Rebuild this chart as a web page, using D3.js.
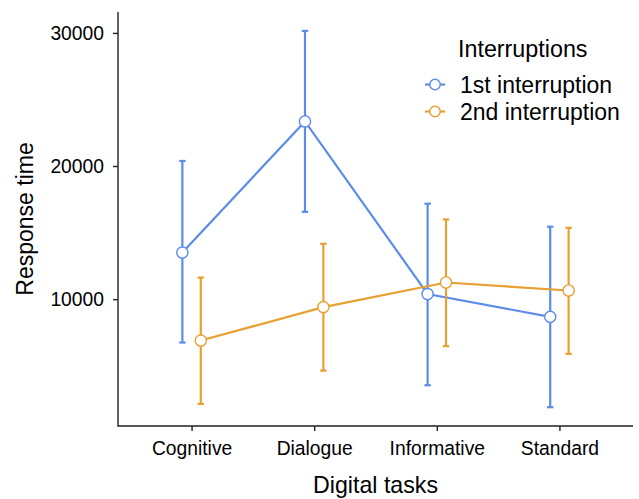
<!DOCTYPE html>
<html><head><meta charset="utf-8">
<script src="https://cdn.jsdelivr.net/npm/d3@7"></script>
<style>body{margin:0;background:#fff}text{font-family:"Liberation Sans",Arial,sans-serif;fill:#000}</style>
</head><body>
<svg id="c" width="639" height="499"></svg>
<script>
const categories = ["Cognitive","Dialogue","Informative","Standard"];
const seriesNames = ["1st interruption","2nd interruption"];
const mean1 = [13500, 23350, 10380, 8670];
const low1  = [6740, 16560, 3530, 1880];
const high1 = [20380, 30150, 17170, 15440];
const mean2 = [6890, 9400, 11250, 10650];
const low2  = [2130, 4630, 6470, 5890];
const high2 = [11620, 14160, 15990, 15360];
const yTicks = [10000, 20000, 30000];
const colors = ["#5B8CEB","#E8A033"];

const svg = d3.select("#c");
const L=118, R=633, T=12, B=426;
const x = d3.scalePoint().domain(categories).range([L,R]).padding(0.6);
const y = d3.scaleLinear().domain([470, 31570]).range([B,T]);
const dodge = [-9.2, 9.2];

// axes
const ya = svg.append("g").attr("transform",`translate(${L},0)`)
  .call(d3.axisLeft(y).tickValues(yTicks).tickSize(5).tickPadding(9).tickFormat(d3.format("d")));
const xa = svg.append("g").attr("transform",`translate(0,${B})`)
  .call(d3.axisBottom(x).tickSize(5).tickPadding(7));
[ya,xa].forEach(a=>{
  a.select(".domain").remove();
  a.selectAll(".tick line").attr("stroke","#222").attr("stroke-width",1.4);
  a.selectAll(".tick text").attr("font-size","19.3px").attr("fill","#1a1a1a").style("font-family","Liberation Sans, Arial, sans-serif");
});
xa.selectAll(".tick text").attr("dy","0.9em");
svg.append("path").attr("d",`M${L},${T}V${B}H${R}`).attr("fill","none").attr("stroke","#222").attr("stroke-width",1.4);

const series = [
  {name:seriesNames[0], mean:mean1, low:low1, high:high1},
  {name:seriesNames[1], mean:mean2, low:low2, high:high2}
];
series.forEach((s,si)=>{
  const g = svg.append("g");
  const col = colors[si];
  const xs = c=>x(c)+dodge[si];
  categories.forEach((c,i)=>{
    g.append("line").attr("x1",xs(c)).attr("x2",xs(c)).attr("y1",y(s.low[i])).attr("y2",y(s.high[i]))
      .attr("stroke",col).attr("stroke-width",2.2);
    [s.low[i],s.high[i]].forEach(v=>{
      g.append("line").attr("x1",xs(c)-3.2).attr("x2",xs(c)+3.2).attr("y1",y(v)).attr("y2",y(v))
        .attr("stroke",col).attr("stroke-width",2.2);
    });
  });
  g.append("path").datum(categories.map((c,i)=>[xs(c),y(s.mean[i])]))
    .attr("d",d3.line()).attr("fill","none").attr("stroke",col).attr("stroke-width",2.2);
  g.selectAll("circle").data(categories).join("circle")
    .attr("cx",c=>xs(c)).attr("cy",(c,i)=>y(s.mean[i])).attr("r",5.6)
    .attr("fill","#fff").attr("stroke",col).attr("stroke-width",1.4);
});

// legend
const lg = svg.append("g");
lg.append("text").attr("x",458).attr("y",57).attr("font-size","23.3px").text("Interruptions");
seriesNames.forEach((n,i)=>{
  const yy = 84.5 + i*27;
  lg.append("line").attr("x1",425).attr("x2",445).attr("y1",yy).attr("y2",yy).attr("stroke",colors[i]).attr("stroke-width",2.2);
  lg.append("circle").attr("cx",435).attr("cy",yy).attr("r",5.2).attr("fill","#fff").attr("stroke",colors[i]).attr("stroke-width",1.4);
  lg.append("text").attr("x",460).attr("y",yy+8).attr("font-size","23px").text(n);
});

// axis titles
svg.append("text").attr("x",(L+R)/2).attr("y",492.5).attr("text-anchor","middle").attr("font-size","23.2px").text("Digital tasks");
svg.append("text").attr("transform",`translate(32.5,${(T+B)/2}) rotate(-90)`).attr("text-anchor","middle").attr("font-size","23px").text("Response time");
</script>
</body></html>
